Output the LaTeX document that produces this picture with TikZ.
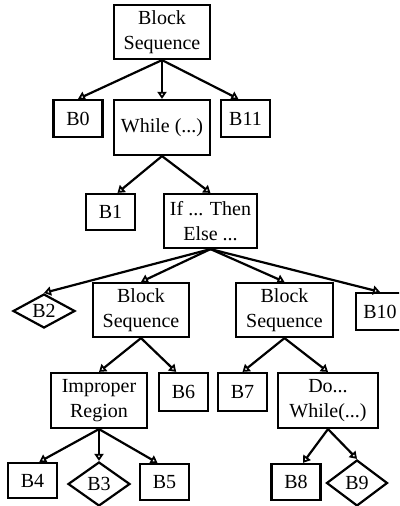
\documentclass[tikz,border=0pt]{standalone}
\usepackage{fontspec}
\setmainfont{Liberation Serif}
\usetikzlibrary{shapes.geometric,arrows.meta}
\begin{document}
\begin{tikzpicture}[x=1pt,y=-1pt,
  every node/.style={font=\fontsize{20}{24.5}\selectfont, align=center, inner sep=0pt},
  blk/.style={draw, line width=2.2pt, minimum width=49pt, minimum height=37pt},
  wide/.style={draw, line width=2.2pt, minimum width=96pt, minimum height=54pt},
  dia/.style={draw, line width=2.2pt, diamond, aspect=2, minimum width=62pt},
  edge/.style={line width=2.2pt, -{Triangle[open, length=7pt, width=9pt, line width=1.8pt]}}]
\useasboundingbox (0,0) rectangle (399,506);
\clip (0,0) rectangle (399,506);

% tree nodes
\node[wide] (root) at (162,32) {Block\\Sequence};
\node[blk]  (b0)   at (78,118.5) {B0};
\node[wide, minimum height=55pt] (wh) at (162,127.5) {While (...)};
\node[blk]  (b11)  at (245.5,118.5) {B11};
\node[blk, minimum height=36pt] (b1) at (110.5,212) {B1};
\node[wide, minimum width=93pt] (ite) at (210.5,221) {If ... Then\\Else ...};
\node[dia, minimum height=34pt] (b2) at (44,311) {B2};
\node[wide] (bsl) at (141,310) {Block\\Sequence};
\node[wide, minimum width=97pt] (bsr) at (284.5,310) {Block\\Sequence};
\node[blk, minimum width=48pt] (b10) at (380,311.5) {B10};
\node[wide, minimum height=55pt] (imp) at (99,400.5) {Improper\\Region};
\node[blk, minimum height=38pt] (b6) at (183.5,392) {B6};
\node[blk, minimum height=38pt] (b7) at (242.5,392) {B7};
\node[wide, minimum width=100pt, minimum height=55pt] (dw) at (328,400.5) {Do...\\While(...)};
\node[blk, minimum height=35pt] (b4) at (32.5,480.5) {B4};
\node[dia, minimum height=44pt] (b3) at (99,484) {B3};
\node[blk, minimum height=36pt] (b5) at (164.5,482) {B5};
\node[blk, minimum height=36pt] (b8) at (296,482) {B8};
\node[dia, minimum width=61pt, minimum height=46pt] (b9) at (357,483) {B9};

% connectors
\draw[edge] (root.south) -- (b0.north);
\draw[edge] (root.south) -- (wh.north);
\draw[edge] (root.south) -- (b11.110);
\draw[edge] (wh.south) -- (b1.70);
\draw[edge] (wh.south) -- (ite.north);
\draw[edge] (ite.south) -- (b2.north);
\draw[edge] (ite.south) -- (bsl.north);
\draw[edge] (ite.south) -- (bsr.north);
\draw[edge] (ite.south) -- (b10.north);
\draw[edge] (bsl.south) -- (imp.north);
\draw[edge] (bsl.south) -- (b6.110);
\draw[edge] (bsr.south) -- (b7.north);
\draw[edge] (bsr.south) -- (dw.north);
\draw[edge] (imp.south) -- (b4.70);
\draw[edge] (imp.south) -- (b3.north);
\draw[edge] (imp.south) -- (b5.110);
\draw[edge] (dw.south) -- (b8.70);
\draw[edge] (dw.south) -- (b9.north);
\end{tikzpicture}
\end{document}
